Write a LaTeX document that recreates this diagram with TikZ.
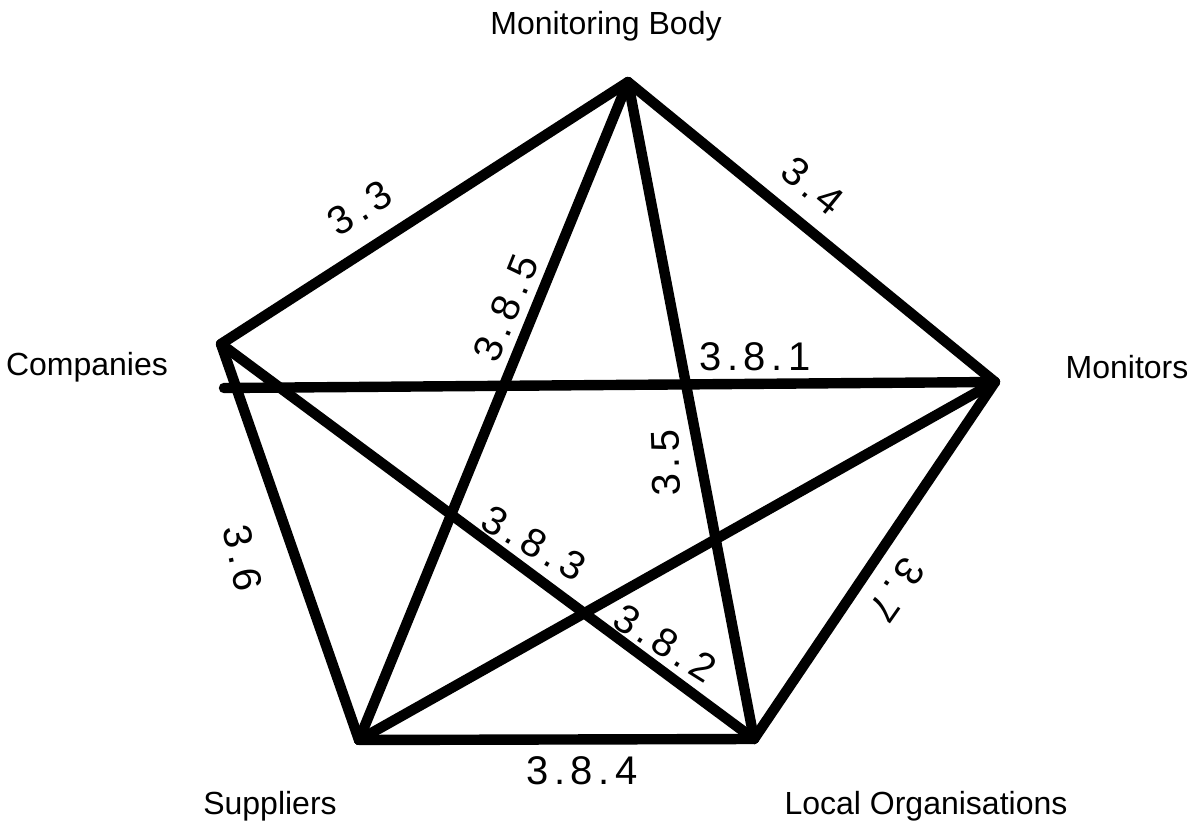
\documentclass[tikz,border=0pt]{standalone}
\usepackage{fontspec}
\setmainfont{Liberation Sans}
\usepackage{tikz}

\begin{document}
\begin{tikzpicture}[x=0.75pt, y=-0.75pt,
  party/.style={font=\fontsize{24}{28}\selectfont},
  link/.style={line width=7.8pt, line cap=round, line join=round},
  num/.style={font=\fontsize{30}{34}\selectfont\addfontfeature{LetterSpace=14}, inner sep=0pt}]
  \useasboundingbox (0,0) rectangle (1197,824);

  % corners of the pentagon
  \coordinate (mb) at (628,82);
  \coordinate (co) at (221,344);
  \coordinate (co2) at (224,388);
  \coordinate (mo) at (995,382);
  \coordinate (su) at (359,740);
  \coordinate (lo) at (754,739);

  \foreach \a/\b in {mb/co, mb/mo, co/su, su/lo, lo/mo, co2/mo, co/lo, mb/su, mb/lo, su/mo}
    \draw[link] (\a) -- (\b);

  \node[party] (mbl) at (606,26) {Monitoring Body};
  \node[party] (col) at (87,367) {Companies};
  \node[party] (mol) at (1127,367) {Monitors};
  \node[party] (sul) at (270,806) {Suppliers};
  \node[party] (lol) at (926,806) {Local Organisations};

  \node[num, rotate=32] (n33) at (360,208) {3.3};
  \node[num, rotate=-39] (n34) at (813,186) {3.4};
  \node[num, rotate=68] (n385) at (506,308) {3.8.5};
  \node[num] (n381) at (755,357) {3.8.1};
  \node[num, rotate=92] (n35) at (666,463) {3.5};
  \node[num, rotate=-30] (n383) at (534,543) {3.8.3};
  \node[num, rotate=-32] (n382) at (665,643) {3.8.2};
  \node[num, rotate=-78] (n36) at (243,558) {3.6};
  \node[num, rotate=-125] (n37) at (897,590) {3.7};
  \node[num] (n384) at (582,771) {3.8.4};
\end{tikzpicture}
\end{document}
